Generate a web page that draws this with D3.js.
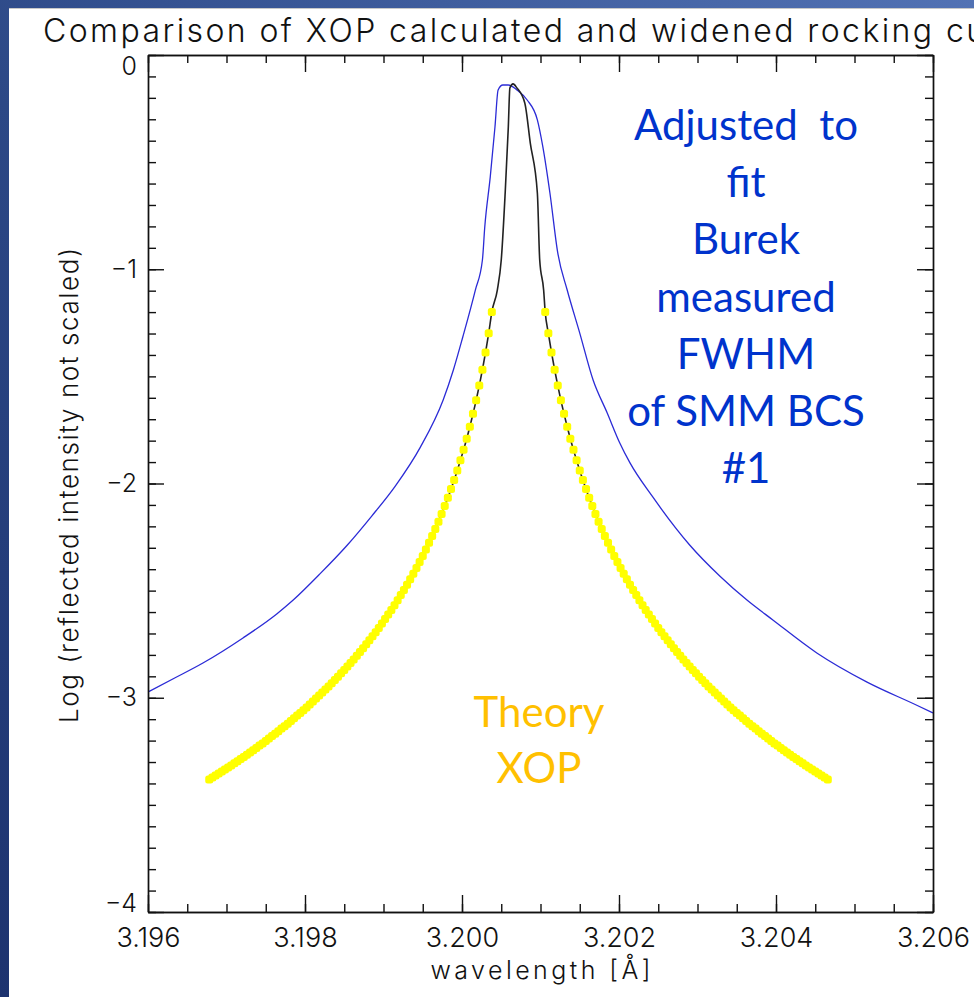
<!DOCTYPE html>
<html>
<head>
<meta charset="utf-8">
<script src="https://cdn.jsdelivr.net/npm/d3@7"></script>
<style>
body { margin: 0; overflow: hidden; background: #fff; }
svg { display: block; }
.axis path, .axis line { stroke: #111; stroke-width: 1.4; }
.axis text { font-family: Inter, "DejaVu Sans", sans-serif; font-weight: 300; font-size: 27px; fill: #111; }
.note { font-family: Lato, "Open Sans", sans-serif; font-size: 42px; white-space: pre; }
</style>
</head>
<body>
<script>
// axis ticks
var xMajorTicks = [3.196, 3.198, 3.200, 3.202, 3.204, 3.206];
var yMajorTicks = [0, -1, -2, -3, -4];

// widened curve (blue)
var blueWl = [3.19600, 3.19634, 3.19670, 3.19721, 3.19764, 3.19785, 3.19819, 3.19854, 3.19885, 3.19915,
    3.19947, 3.19976, 3.19989, 3.20001, 3.20017, 3.20026, 3.20029, 3.20036, 3.20042, 3.20046,
    3.20052, 3.20059, 3.20070, 3.20083, 3.20096, 3.20103, 3.20112, 3.20122, 3.20134, 3.20150,
    3.20167, 3.20185, 3.20201, 3.20214, 3.20243, 3.20290, 3.20329, 3.20363, 3.20396, 3.20452,
    3.20516, 3.20580, 3.20600];
var blueLog = [-2.973, -2.908, -2.838, -2.721, -2.609, -2.544, -2.422, -2.287, -2.152, -2.012,
    -1.830, -1.610, -1.470, -1.316, -1.097, -0.957, -0.803, -0.569, -0.336, -0.163,
    -0.140, -0.140, -0.163, -0.210, -0.303, -0.429, -0.644, -0.924, -1.097, -1.298,
    -1.517, -1.671, -1.811, -1.904, -2.063, -2.287, -2.434, -2.544, -2.637, -2.791,
    -2.927, -3.036, -3.071];

// XOP theory curve, core (black line only)
var coreWl = [3.20045, 3.20050, 3.20055, 3.20059, 3.20061, 3.20065, 3.20070, 3.20080, 3.20087, 3.20096, 3.20099, 3.20104];
var coreLog = [-1.097, -0.957, -0.644, -0.336, -0.154, -0.135, -0.154, -0.224, -0.411, -0.644, -0.957, -1.097];

// XOP theory curve, wings (yellow points), going outwards from the peak
var wingLeftWl = [3.20038, 3.20034, 3.20030, 3.20026, 3.20022, 3.20018, 3.20014, 3.20010, 3.20006, 3.20002,
    3.19998, 3.19994, 3.19990, 3.19986, 3.19982, 3.19978, 3.19974, 3.19970, 3.19966, 3.19962,
    3.19958, 3.19954, 3.19950, 3.19946, 3.19942, 3.19938, 3.19934, 3.19930, 3.19926, 3.19922,
    3.19918, 3.19914, 3.19910, 3.19906, 3.19902, 3.19898, 3.19894, 3.19890, 3.19886, 3.19882,
    3.19878, 3.19874, 3.19870, 3.19866, 3.19862, 3.19858, 3.19854, 3.19850, 3.19846, 3.19842,
    3.19838, 3.19834, 3.19830, 3.19826, 3.19822, 3.19818, 3.19814, 3.19810, 3.19806, 3.19802,
    3.19798, 3.19794, 3.19790, 3.19786, 3.19782, 3.19778, 3.19774, 3.19770, 3.19766, 3.19762,
    3.19758, 3.19754, 3.19750, 3.19746, 3.19742, 3.19738, 3.19734, 3.19730, 3.19726, 3.19722,
    3.19718, 3.19714, 3.19710, 3.19706, 3.19702, 3.19698, 3.19694, 3.19690, 3.19686, 3.19682,
    3.19678];
var wingRightWl = [3.20106, 3.20110, 3.20114, 3.20118, 3.20122, 3.20126, 3.20130, 3.20134, 3.20138, 3.20142,
    3.20146, 3.20150, 3.20154, 3.20158, 3.20162, 3.20166, 3.20170, 3.20174, 3.20178, 3.20182,
    3.20186, 3.20190, 3.20194, 3.20198, 3.20202, 3.20206, 3.20210, 3.20214, 3.20218, 3.20222,
    3.20226, 3.20230, 3.20234, 3.20238, 3.20242, 3.20246, 3.20250, 3.20254, 3.20258, 3.20262,
    3.20266, 3.20270, 3.20274, 3.20278, 3.20282, 3.20286, 3.20290, 3.20294, 3.20298, 3.20302,
    3.20306, 3.20310, 3.20314, 3.20318, 3.20322, 3.20326, 3.20330, 3.20334, 3.20338, 3.20342,
    3.20346, 3.20350, 3.20354, 3.20358, 3.20362, 3.20366, 3.20370, 3.20374, 3.20378, 3.20382,
    3.20386, 3.20390, 3.20394, 3.20398, 3.20402, 3.20406, 3.20410, 3.20414, 3.20418, 3.20422,
    3.20426, 3.20430, 3.20434, 3.20438, 3.20442, 3.20446, 3.20450, 3.20454, 3.20458, 3.20462,
    3.20466];
var wingLog = [-1.200, -1.299, -1.388, -1.469, -1.543, -1.612, -1.675, -1.735, -1.791, -1.843,
    -1.892, -1.939, -1.984, -2.026, -2.067, -2.105, -2.142, -2.178, -2.212, -2.245,
    -2.277, -2.308, -2.338, -2.366, -2.394, -2.421, -2.447, -2.473, -2.497, -2.521,
    -2.545, -2.568, -2.590, -2.612, -2.633, -2.654, -2.674, -2.694, -2.713, -2.732,
    -2.750, -2.769, -2.786, -2.804, -2.821, -2.838, -2.854, -2.870, -2.886, -2.902,
    -2.917, -2.932, -2.947, -2.962, -2.976, -2.990, -3.004, -3.018, -3.031, -3.045,
    -3.058, -3.071, -3.083, -3.096, -3.108, -3.121, -3.133, -3.144, -3.156, -3.168,
    -3.179, -3.190, -3.202, -3.213, -3.223, -3.234, -3.245, -3.255, -3.266, -3.276,
    -3.286, -3.296, -3.306, -3.316, -3.325, -3.335, -3.344, -3.354, -3.363, -3.372,
    -3.381];

var blueNote = ["Adjusted  to", "fit", "Burek", "measured", "FWHM", "of SMM BCS", "#1"];
var yellowNote = ["Theory", "XOP"];

var margin = { left: 148, right: 41, top: 55, bottom: 85 };
var fullWidth = 974;
var fullHeight = 997;
var width = fullWidth - margin.left - margin.right;
var height = fullHeight - margin.top - margin.bottom;

var svg = d3.select("body").append("svg").attr("width", fullWidth).attr("height", fullHeight);

// slide background
var defs = svg.append("defs");
var grad = defs.append("linearGradient").attr("id", "slide")
    .attr("x1", "0%").attr("y1", "100%").attr("x2", "100%").attr("y2", "0%");
grad.append("stop").attr("offset", "0%").attr("stop-color", "#1d336f");
grad.append("stop").attr("offset", "45%").attr("stop-color", "#2c4886");
grad.append("stop").attr("offset", "100%").attr("stop-color", "#5272b4");
svg.append("rect").attr("width", fullWidth).attr("height", fullHeight).attr("fill", "url(#slide)");
svg.append("rect").attr("x", 9).attr("y", 8).attr("width", fullWidth).attr("height", fullHeight).attr("fill", "#c8c8c8");
svg.append("rect").attr("x", 9).attr("y", 9).attr("width", fullWidth).attr("height", fullHeight).attr("fill", "#fff");

defs.append("clipPath").attr("id", "plotClip")
    .append("rect").attr("width", width).attr("height", height);

var x = d3.scaleLinear().domain([3.196, 3.206]).range([0, width]);
var y = d3.scaleLinear().domain([-4, 0]).range([height, 0]);

var chartGroup = svg.append("g").attr("transform", "translate(" + margin.left + "," + margin.top + ")");

var line = d3.line()
    .x(function (d) { return x(d[0]); })
    .y(function (d) { return y(d[1]); })
    .curve(d3.curveMonotoneX);

var plot = chartGroup.append("g").attr("clip-path", "url(#plotClip)");

plot.append("path")
    .datum(d3.zip(blueWl, blueLog))
    .attr("fill", "none")
    .attr("stroke", "#2b2bd6")
    .attr("stroke-width", 1.3)
    .attr("d", line);

var leftWing = d3.zip(wingLeftWl, wingLog);
var rightWing = d3.zip(wingRightWl, wingLog);
var theory = leftWing.slice().reverse().concat(d3.zip(coreWl, coreLog)).concat(rightWing);

plot.append("path")
    .datum(theory)
    .attr("fill", "none")
    .attr("stroke", "#222")
    .attr("stroke-width", 1.6)
    .attr("d", line);

plot.selectAll(".dot")
    .data(leftWing.concat(rightWing))
    .enter().append("rect")
    .attr("class", "dot")
    .attr("x", function (d) { return x(d[0]) - 4; })
    .attr("y", function (d) { return y(d[1]) - 4; })
    .attr("width", 8)
    .attr("height", 8)
    .attr("rx", 2.5)
    .attr("fill", "#ffff00");

// axes: minor ticks then major ticks, all pointing inwards
chartGroup.append("g").attr("class", "axis")
    .attr("transform", "translate(0," + height + ")")
    .call(d3.axisBottom(x).tickValues(x.ticks(20)).tickSizeInner(-8).tickSizeOuter(0).tickFormat(""));
chartGroup.append("g").attr("class", "axis")
    .attr("transform", "translate(0," + height + ")")
    .call(d3.axisBottom(x).tickValues(xMajorTicks).tickSizeInner(-17).tickSizeOuter(0).tickPadding(16)
        .tickFormat(d3.format(".3f")));

chartGroup.append("g").attr("class", "axis")
    .call(d3.axisTop(x).tickValues(x.ticks(20)).tickSizeInner(-8).tickSizeOuter(0).tickFormat(""));
chartGroup.append("g").attr("class", "axis")
    .call(d3.axisTop(x).tickValues(xMajorTicks).tickSizeInner(-17).tickSizeOuter(0).tickFormat(""));

chartGroup.append("g").attr("class", "axis")
    .call(d3.axisLeft(y).tickValues(y.ticks(40)).tickSizeInner(-8).tickSizeOuter(0).tickFormat(""));
var yAxisG = chartGroup.append("g").attr("class", "axis")
    .call(d3.axisLeft(y).tickValues(yMajorTicks).tickSizeInner(-16).tickSizeOuter(0).tickPadding(11)
        .tickFormat(function (d) { return d === 0 ? "0" : "\u2212" + Math.abs(d); }));
yAxisG.selectAll("text")
    .style("font-size", "25px")
    .attr("transform", function (d) { return d === 0 ? "translate(0,11)" : (d === -4 ? "translate(0,-9)" : null); });

chartGroup.append("g").attr("class", "axis")
    .attr("transform", "translate(" + width + ",0)")
    .call(d3.axisRight(y).tickValues(y.ticks(40)).tickSizeInner(-8).tickSizeOuter(0).tickFormat(""));
chartGroup.append("g").attr("class", "axis")
    .attr("transform", "translate(" + width + ",0)")
    .call(d3.axisRight(y).tickValues(yMajorTicks).tickSizeInner(-16).tickSizeOuter(0).tickFormat(""));

// titles
svg.append("text")
    .attr("x", 43).attr("y", 42)
    .attr("textLength", 1016).attr("lengthAdjust", "spacing")
    .style("font-family", "Inter, 'DejaVu Sans', sans-serif").style("font-weight", 300)
    .style("font-size", "32px").style("fill", "#111")
    .text("Comparison of XOP calculated and widened rocking curves");

svg.append("text")
    .attr("transform", "translate(78," + (margin.top + height / 2 + 2) + ") rotate(-90)")
    .attr("text-anchor", "middle")
    .attr("textLength", 475).attr("lengthAdjust", "spacing")
    .style("font-family", "Inter, 'DejaVu Sans', sans-serif").style("font-weight", 300)
    .style("font-size", "26px").style("fill", "#111")
    .text("Log (reflected intensity not scaled)");

svg.append("text")
    .attr("x", margin.left + width / 2).attr("y", 979)
    .attr("text-anchor", "middle")
    .attr("textLength", 220).attr("lengthAdjust", "spacing")
    .style("font-family", "Inter, 'DejaVu Sans', sans-serif").style("font-weight", 300)
    .style("font-size", "25px").style("fill", "#111")
    .text("wavelength [\u00c5]");

// annotations
svg.selectAll(".blueNote")
    .data(blueNote)
    .enter().append("text")
    .attr("class", "note blueNote")
    .attr("x", 746)
    .attr("y", function (d, i) { return 140 + i * 57.2; })
    .attr("text-anchor", "middle")
    .attr("fill", "#0033cc")
    .text(function (d) { return d; });

svg.selectAll(".yellowNote")
    .data(yellowNote)
    .enter().append("text")
    .attr("class", "note yellowNote")
    .attr("x", 539)
    .attr("y", function (d, i) { return 727 + i * 56; })
    .attr("text-anchor", "middle")
    .attr("fill", "#ffc000")
    .text(function (d) { return d; });
</script>
</body>
</html>
